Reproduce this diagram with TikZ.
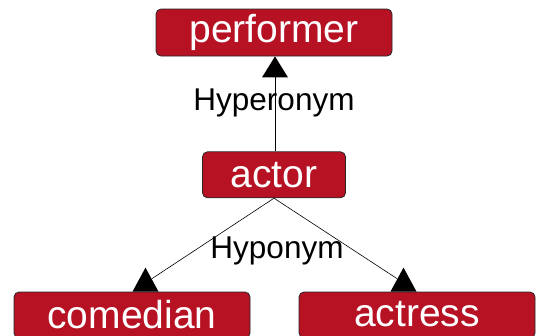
\documentclass[tikz,border=0pt]{standalone}
\usepackage{fontspec}
\setmainfont{Liberation Sans}
\usetikzlibrary{positioning,calc}
\definecolor{wordred}{RGB}{183,18,36}

\begin{document}
\begin{tikzpicture}[
    x=1pt, y=-1pt,
    node distance=95pt and 0pt,
    word/.style={draw=black!85, line width=0.8pt, fill=wordred, rounded corners=5pt,
        text=white, inner sep=0pt, minimum width=236pt, minimum height=46pt,
        font=\fontsize{39}{40}\selectfont},
    rel/.style={font=\fontsize{31.5}{33}\selectfont, inner sep=0pt},
    link/.style={line width=0.6pt},
    tip/.style={fill=black}
]
\clip (0,0) rectangle (540,335);
\useasboundingbox (0,0) rectangle (540,335);

\node[word, minimum height=47pt] at (274,32.5) (performer) {performer};
\node[word, minimum width=143pt, below=95pt of performer] (actor) {actor};
\node[word, text depth=2pt] at (132,315) (comedian) {comedian};
\node[word, text depth=2pt] at (417,315) (actress) {actress};

% upright triangles sitting on the boxes
\coordinate (uptip) at ($(performer.south)+(1,0)$);
\coordinate (lefttip) at ($(comedian.north)+(13.5,0)$);
\coordinate (righttip) at ($(actress.north)+(-13.5,0)$);
\fill[tip] (uptip) -- ++(13,21) -- ++(-26,0) -- cycle;
\fill[tip] (lefttip) ++(-13,0) -- ++(13,-24) -- ++(13,24) -- cycle;
\fill[tip] (righttip) ++(-13,0) -- ++(13,-24) -- ++(13,24) -- cycle;

\draw[link] (actor.north -| uptip) -- ($(uptip)+(0,21)$);
\draw[link] (actor.south) -- ($(lefttip)+(6.5,-13)$);
\draw[link] (actor.south) -- ($(righttip)+(-6.5,-13)$);

\node[rel] at (274,103) (hyper) {Hyperonym};
\node[rel] at (277,251) (hypo) {Hyponym};
\end{tikzpicture}
\end{document}
